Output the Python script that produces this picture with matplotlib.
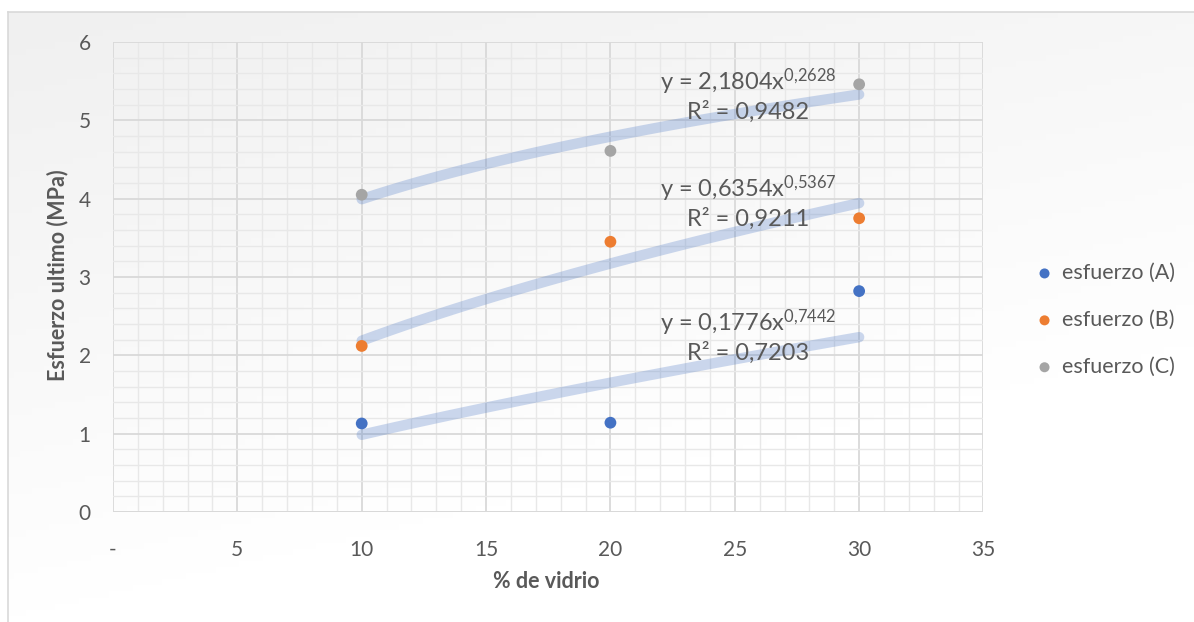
import numpy as np
import matplotlib
matplotlib.use("Agg")
import matplotlib.pyplot as plt

# ---- data ----
x_vals = [10, 20, 30]
esfuerzo_A = [1.13, 1.14, 2.82]
esfuerzo_B = [2.12, 3.45, 3.75]
esfuerzo_C = [4.05, 4.61, 5.46]
series_names = ["esfuerzo (A)", "esfuerzo (B)", "esfuerzo (C)"]
series_colors = ["#4472C4", "#ED7D31", "#A5A5A5"]
coef_a = ["0,1776", "0,6354", "2,1804"]
coef_b = ["0,7442", "0,5367", "0,2628"]
r2_vals = ["0,7203", "0,9211", "0,9482"]
x_ticks = [0, 5, 10, 15, 20, 25, 30, 35]
x_tick_labels = ["-", "5", "10", "15", "20", "25", "30", "35"]
y_ticks = [0, 1, 2, 3, 4, 5, 6]

W, H = 1194, 622
fig = plt.figure(figsize=(W / 100, H / 100), dpi=100)
fig.patch.set_facecolor("white")
plt.rcParams['font.family'] = ['Lato', 'DejaVu Sans']
plt.rcParams['mathtext.fontset'] = 'custom'
plt.rcParams['mathtext.rm'] = 'Lato'
plt.rcParams['mathtext.it'] = 'Lato'
plt.rcParams['mathtext.default'] = 'regular'

# chart area background with light gradient
bg = fig.add_axes([8 / W, 0, 1 - 8 / W, (H - 12) / H], zorder=0)
gx, gy = np.meshgrid(np.linspace(0, 1, 200), np.linspace(0, 1, 100))
grad = np.clip(1 - (gx * 0.45 + gy * 1.0), 0, 1)
bg.imshow(grad, cmap=matplotlib.colors.LinearSegmentedColormap.from_list("g", ["#ffffff", "#f0f0f0"]),
          aspect="auto", extent=[0, 1, 0, 1], origin="upper", vmin=0, vmax=1)
bg.set_xticks([]); bg.set_yticks([])
for s in ["right", "bottom"]:
    bg.spines[s].set_visible(False)
for s in ["left", "top"]:
    bg.spines[s].set_color("#d9d9d9")
    bg.spines[s].set_linewidth(1.2)

ax = fig.add_axes([113 / W, (H - 512) / H, (983.5 - 113) / W, (512 - 42) / H], zorder=1)
ax.patch.set_alpha(0)
ax.set_xlim(0, 35)
ax.set_ylim(0, 6)
ax.set_xticks(x_ticks)
ax.set_xticklabels(x_tick_labels)
ax.set_yticks(y_ticks)
ax.set_xticks(np.arange(0, 36, 1), minor=True)
ax.set_yticks(np.arange(0, 6.01, 0.2), minor=True)
ax.grid(which="major", color="#d9d9d9", linewidth=1.3)
ax.grid(which="minor", color="#e8e8e8", linewidth=1.0)
ax.set_axisbelow(True)
ax.tick_params(which="both", length=0)
ax.tick_params(axis="both", labelsize=15, labelcolor="#595959")
ax.tick_params(axis="x", pad=20)
ax.tick_params(axis="y", pad=16)
for s in ax.spines.values():
    s.set_visible(False)
ax.axhline(0, color="#d9d9d9", linewidth=1.3, zorder=1)

# axis titles
fig.text(546 / W, 1 - 582 / H, "% de vidrio", fontsize=15.5, fontweight="bold",
         color="#595959", ha="center", va="center")
fig.text(58 / W, 1 - 275 / H, "Esfuerzo ultimo (MPa)", fontsize=15.5, fontweight="bold",
         color="#595959", ha="center", va="center", rotation=90)

data = [esfuerzo_A, esfuerzo_B, esfuerzo_C]
xt = np.linspace(min(x_vals), max(x_vals), 100)
for a, b in zip(coef_a, coef_b):
    av = float(a.replace(",", "."))
    bv = float(b.replace(",", "."))
    ax.plot(xt, av * xt ** bv, color="#4472C4", alpha=0.27, linewidth=7.5,
            solid_capstyle="round", zorder=2)
handles = []
for vals, name, col in zip(data, series_names, series_colors):
    h = ax.scatter(x_vals, vals, s=72, color=col, zorder=3, label=name, edgecolors="none")
    handles.append(h)

# equation labels
eq_pos = [(748, 323), (748, 189), (748, 82)]
for (px, py), a, b, r2 in zip(eq_pos, coef_a, coef_b, r2_vals):
    fig.text(px / W, 1 - py / H,
             "y = %sx$^{%s}$" % (a, b.replace(",", "{,}")),
             ha="center", va="center", fontsize=17, color="#595959")
    fig.text(px / W, 1 - (py + 30) / H, "R² = %s" % r2,
             ha="center", va="center", fontsize=17, color="#595959")

leg = fig.legend(handles=handles, loc="center left", bbox_to_anchor=(1023 / W, 1 - 320 / H),
                 frameon=False, fontsize=15.5, labelcolor="#595959", handletextpad=-0.2,
                 markerscale=0.85, labelspacing=1.25, borderaxespad=0, borderpad=0)

fig.savefig("out.png", dpi=100)
